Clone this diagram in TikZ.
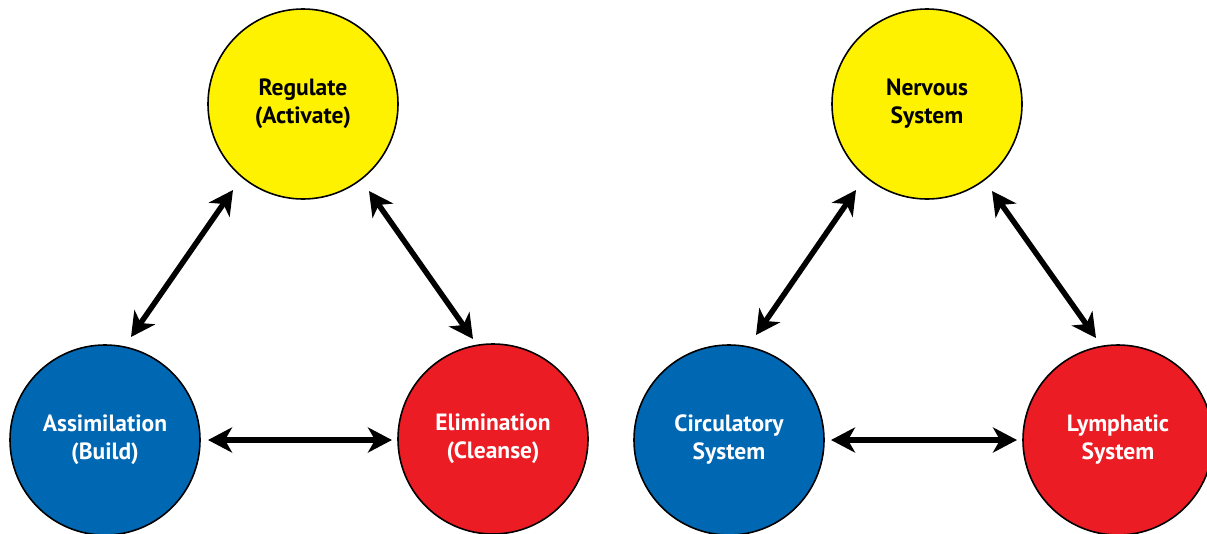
\documentclass[tikz,border=0pt]{standalone}
\usepackage{fontspec}
\setmainfont{PT Sans}
\usetikzlibrary{arrows.meta}
\definecolor{cyel}{HTML}{FFF200}
\definecolor{cblue}{HTML}{0067B2}
\definecolor{cred}{HTML}{EC1C24}
\begin{document}
\begin{tikzpicture}[x=1pt,y=-1pt,
  ball/.style={circle,draw=black,line width=1.6pt,minimum size=190pt,inner sep=0pt,
    font=\fontsize{23.5}{28}\selectfont\bfseries,align=center},
  yball/.style={ball,fill=cyel,text=black},
  bball/.style={ball,fill=cblue,text=white},
  rball/.style={ball,fill=cred,text=white},
  link/.style={line width=5.5pt,{Stealth[length=24pt,width=25pt,inset=7pt]}-{Stealth[length=24pt,width=25pt,inset=7pt]}}]
\useasboundingbox (0,0) rectangle (1207,533);
\clip (0,0) rectangle (1207,533);
\node[yball] (reg) at (303,104) {Regulate\\(Activate)};
\node[bball] (ass) at (105,440) {Assimilation\\(Build)};
\node[rball] (eli) at (493,439) {Elimination\\(Cleanse)};
\node[yball] (ner) at (927,104) {Nervous\\System};
\node[bball] (cir) at (729,440) {Circulatory\\System};
\node[rball] (lym) at (1118,440) {Lymphatic\\System};
\coordinate (a1) at (131,337); \coordinate (a2) at (233,190);
\coordinate (b1) at (369,191); \coordinate (b2) at (473,339);
\coordinate (c1) at (208,440); \coordinate (c2) at (392,440);
\coordinate (d1) at (756,335); \coordinate (d2) at (856,190);
\coordinate (e1) at (992,191); \coordinate (e2) at (1096,338);
\coordinate (f1) at (831,440); \coordinate (f2) at (1017,440);
\draw[link] (a1) -- (a2);
\draw[link] (b1) -- (b2);
\draw[link] (c1) -- (c2);
\draw[link] (d1) -- (d2);
\draw[link] (e1) -- (e2);
\draw[link] (f1) -- (f2);
\end{tikzpicture}
\end{document}
